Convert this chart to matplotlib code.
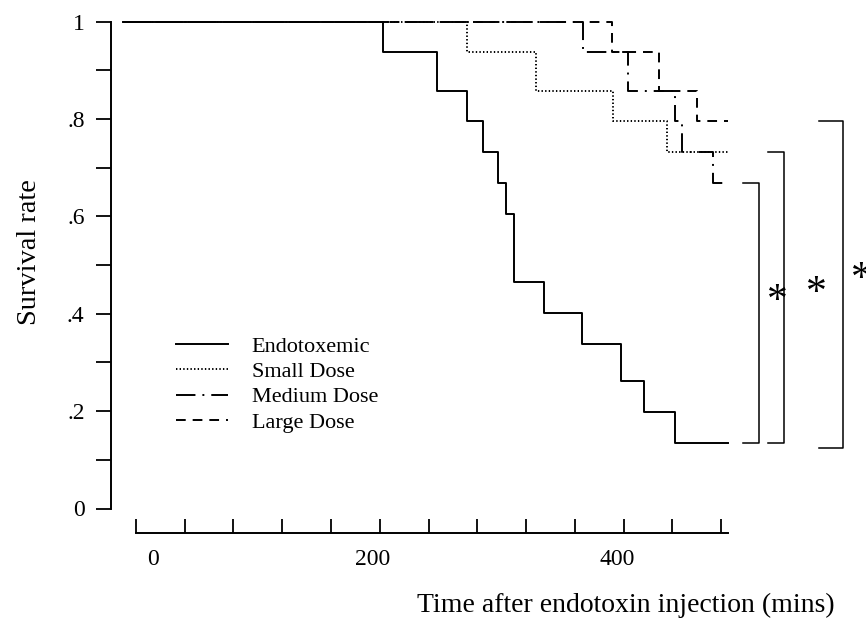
import matplotlib
matplotlib.use("Agg")
import matplotlib.pyplot as plt
import matplotlib.transforms as mtrans

plt.rcParams['font.family'] = ['Liberation Serif', 'DejaVu Serif']
plt.rcParams['lines.scale_dashes'] = False

# survival curves (time in mins, survival rate)
endo_t = [-10.7, 202.6, 246.9, 271.6, 284.7, 297.0, 303.6, 309.9, 334.8, 365.9, 397.9, 416.8, 442.2, 485.7]
endo_s = [1.0, 0.938, 0.858, 0.796, 0.732, 0.669, 0.605, 0.466, 0.402, 0.339, 0.261, 0.199, 0.135, 0.135]

small_t = [-10.7, 271.8, 328.2, 391.1, 435.4, 485.7]
small_s = [1.0, 0.938, 0.858, 0.796, 0.732, 0.732]

medium_t = [-10.7, 366.5, 403.9, 442.2, 447.7, 473.3, 485.7]
medium_s = [1.0, 0.938, 0.858, 0.796, 0.732, 0.669, 0.669]

large_t = [-10.7, 390.5, 429.3, 460.5, 485.7]
large_s = [1.0, 0.938, 0.858, 0.796, 0.796]

labels = ['Endotoxemic', 'Small Dose', 'Medium Dose', 'Large Dose']

x_ticks = list(range(0, 481, 40))
x_labels = {0: '0', 200: '200', 400: '400'}
y_major = [0, 0.2, 0.4, 0.6, 0.8, 1.0]
y_labels = ['0', '.2', '.4', '.6', '.8', '1']
y_minor = [0.1, 0.3, 0.5, 0.7, 0.9]

W, H = 866, 625
fig = plt.figure(figsize=(W / 100, H / 100), dpi=100)

# axes box in pixels: left spine at x=111, y=1 at 21.8, y=0 at 508.5
xmin, xmax = -20.5, 585.8
ax = fig.add_axes([111 / W, (H - 508.5) / H, 739 / W, (508.5 - 21.8) / H])
ax.set_xlim(xmin, xmax)
ax.set_ylim(0, 1)

lw = 1.4
ax.plot(endo_t, endo_s, drawstyle='steps-post', color='black', lw=lw,
        label=labels[0], clip_on=False)
ax.plot(small_t, small_s, drawstyle='steps-post', color='black', lw=lw,
        ls=(0, (1.0, 1.6)), label=labels[1], clip_on=False)
ax.plot(medium_t, medium_s, drawstyle='steps-post', color='black', lw=lw,
        ls=(0, (14, 5, 1.4, 5)), label=labels[2], clip_on=False)
ax.plot(large_t, large_s, drawstyle='steps-post', color='black', lw=lw,
        ls=(0, (7, 5)), label=labels[3], clip_on=False)

# significance brackets
tops = [medium_s[-1], small_s[-1], large_s[-1]]
bottoms = [endo_s[-1], endo_s[-1], endo_s[-1] - 0.01]
br_x = [(498, 511.3), (518.9, 531.8), (560.3, 580.3)]
star_pos = [(526.4, 0.445), (558.3, 0.462), (595.2, 0.49)]
for (x0, x1), top, bot, (sx, sy) in zip(br_x, tops, bottoms, star_pos):
    ax.plot([x0, x1, x1, x0], [top, top, bot, bot], color='black', lw=1.1,
            clip_on=False)
    ax.text(sx, sy - 0.02, '*', fontsize=30, ha='center', va='center',
            clip_on=False)

# spines
for s in ['top', 'right']:
    ax.spines[s].set_visible(False)
ax.spines['left'].set_bounds(0, 1)
ax.spines['left'].set_linewidth(1.4)
ax.spines['bottom'].set_position(('outward', 24 * 0.72))
ax.spines['bottom'].set_bounds(0, 486)
ax.spines['bottom'].set_linewidth(1.4)

ax.set_yticks(y_major)
ax.set_yticklabels(y_labels)
ax.set_yticks(y_minor, minor=True)
ax.tick_params(axis='y', which='both', direction='out', length=11, width=1.3,
               labelsize=17, pad=8)

ax.set_xticks(x_ticks)
ax.set_xticklabels([x_labels.get(t, '') for t in x_ticks])
ax.tick_params(axis='x', which='both', direction='in', length=10, width=1.3,
               labelsize=17, pad=12)

# stata-like offsets of the x tick labels
x_shift = {'0': 17, '200': -7, '400': -6}
for lab in ax.get_xticklabels():
    dx = x_shift.get(lab.get_text(), 0)
    lab.set_transform(lab.get_transform() +
                      mtrans.ScaledTranslation(dx / 100, 0, fig.dpi_scale_trans))

leg = ax.legend(loc='upper left', bbox_to_anchor=(176 / W, (H - 336) / H),
                bbox_transform=fig.transFigure, frameon=False, fontsize=16,
                handlelength=2.35, handletextpad=1.05, labelspacing=0.22,
                borderpad=0, borderaxespad=0)

fig.text(30 / W, (H - 252) / H, 'Survival rate', rotation=90, fontsize=20.5,
         ha='center', va='center')
fig.text(626 / W, (H - 605) / H, 'Time after endotoxin injection (mins)',
         fontsize=20, ha='center', va='center')

fig.savefig('out.png', dpi=100)
